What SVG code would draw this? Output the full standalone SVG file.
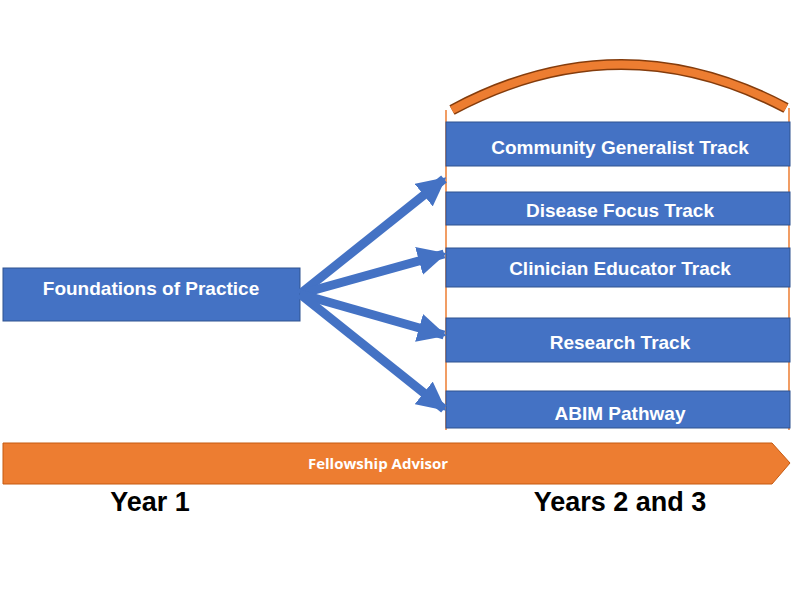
<svg xmlns="http://www.w3.org/2000/svg" width="800" height="600" viewBox="0 0 800 600">
<defs>
<style>
.box{fill:#4472c4;stroke:#2f528f;stroke-width:1}
.t{font-family:"Liberation Sans",Arial,sans-serif;font-weight:bold;fill:#fff;font-size:19px;text-anchor:middle}
.yr{font-family:"Liberation Sans",Arial,sans-serif;font-weight:bold;fill:#000;font-size:27px;text-anchor:middle}
.c{stroke:#4472c4;stroke-width:9;fill:none}
</style>
<marker id="ah" viewBox="0 0 10 10" refX="9" refY="5" markerWidth="3.2" markerHeight="3.2" orient="auto" markerUnits="strokeWidth">
<path d="M0,0 L10,5 L0,10 z" fill="#4472c4"/>
</marker>
</defs>
<rect width="800" height="600" fill="#fff"/>
<g id="bracket">
<path d="M452,110 Q620,20 786,108" fill="none" stroke="#843c0c" stroke-width="11" stroke-linecap="butt"/>
<path d="M452,110 Q620,20 786,108" fill="none" stroke="#ed7d31" stroke-width="8"/>
<line x1="446" y1="110" x2="446" y2="430" stroke="#ed7d31" stroke-width="1.5"/>
<line x1="789" y1="108" x2="789" y2="430" stroke="#ed7d31" stroke-width="1.5"/>
</g>
<g id="foundations"><rect class="box" x="3" y="268" width="297" height="53"/><text class="t" x="151" y="295">Foundations of Practice</text></g>
<g id="cgt"><rect class="box" x="446" y="122" width="344" height="44"/><text class="t" x="620" y="154">Community Generalist Track</text></g>
<g id="dft"><rect class="box" x="446" y="192" width="344" height="33"/><text class="t" x="620" y="217">Disease Focus Track</text></g>
<g id="cet"><rect class="box" x="446" y="248" width="344" height="39"/><text class="t" x="620" y="275">Clinician Educator Track</text></g>
<g id="rt"><rect class="box" x="446" y="318" width="344" height="44"/><text class="t" x="620" y="349">Research Track</text></g>
<g id="abim"><rect class="box" x="446" y="391" width="344" height="37"/><text class="t" x="620" y="420">ABIM Pathway</text></g>
<g id="advisor"><path d="M3,443 L772,443 L790,463 L772,484 L3,484 Z" fill="#ed7d31" stroke="#c55a11" stroke-width="1"/><text x="378" y="469" font-family="'Open Sans','Liberation Sans',sans-serif" font-weight="bold" font-size="15" fill="#fff" text-anchor="middle">Fellowship Advisor</text></g>
<g id="connectors">
<line class="c" x1="300" y1="294" x2="444" y2="179" marker-end="url(#ah)"/>
<line class="c" x1="300" y1="294" x2="444" y2="254" marker-end="url(#ah)"/>
<line class="c" x1="300" y1="294" x2="444" y2="335" marker-end="url(#ah)"/>
<line class="c" x1="300" y1="294" x2="444" y2="409" marker-end="url(#ah)"/>
</g>
<text class="yr" x="150" y="511">Year 1</text>
<text class="yr" x="620" y="511">Years 2 and 3</text>
</svg>
